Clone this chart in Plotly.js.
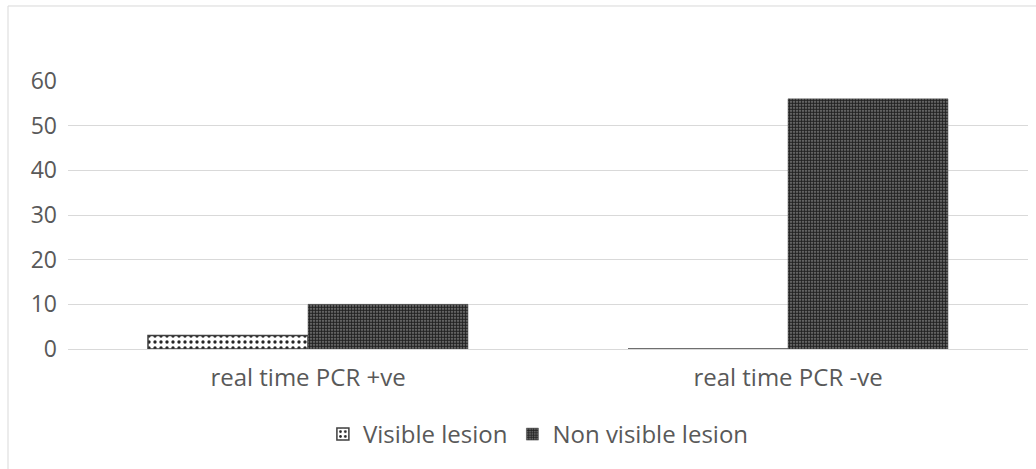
<!DOCTYPE html>
<html>
<head>
<meta charset="utf-8">
<script src="https://cdn.plot.ly/plotly-3.0.1.min.js"></script>
<style>
  html, body { margin: 0; padding: 0; background: #fff; }
  #chart { width: 1036px; height: 469px; }
</style>
</head>
<body>
<div id="chart"></div>
<script>
// Categories on the x axis
const categories = ["real time PCR +ve", "real time PCR -ve"];
// Series values
const visibleLesion = [3, 0];
const nonVisibleLesion = [10, 56];
// Y axis ticks
const yTicks = [0, 10, 20, 30, 40, 50, 60];

const font = "'Open Sans', 'Noto Sans', sans-serif";

const traces = [
  {
    type: "bar",
    name: "Visible lesion",
    x: categories,
    y: visibleLesion,
    marker: {
      color: "#ffffff",
      line: { color: "#404040", width: 1.5 },
      pattern: { shape: ".", size: 6, solidity: 0.25, fgcolor: "#262626", bgcolor: "#ffffff", fillmode: "replace" }
    },
    hoverinfo: "x+y+name"
  },
  {
    type: "bar",
    name: "Non visible lesion",
    x: categories,
    y: nonVisibleLesion,
    marker: {
      color: "#666666",
      line: { color: "#555555", width: 0.5 },
      pattern: { shape: ".", size: 3, solidity: 0.7, fgcolor: "#222222", bgcolor: "#8c8c8c", fillmode: "replace" }
    },
    hoverinfo: "x+y+name"
  }
];

const layout = {
  width: 1036,
  height: 469,
  margin: { l: 68, r: 8, t: 81, b: 120 },
  paper_bgcolor: "#ffffff",
  plot_bgcolor: "#ffffff",
  barmode: "group",
  bargap: 0.3333,
  bargroupgap: 0,
  font: { family: font, color: "#595959", size: 23 },
  xaxis: {
    type: "category",
    showgrid: false,
    zeroline: false,
    showline: false,
    ticks: "",
    ticklabelstandoff: 12,
    tickfont: { family: font, size: 24, color: "#595959" },
    fixedrange: true
  },
  yaxis: {
    range: [0, 60],
    tickvals: yTicks,
    showgrid: true,
    gridcolor: "#d9d9d9",
    gridwidth: 1,
    zeroline: true,
    zerolinecolor: "#d9d9d9",
    zerolinewidth: 1,
    showline: false,
    ticks: "",
    ticklabelstandoff: 10,
    tickfont: { family: font, size: 23, color: "#595959" },
    fixedrange: true
  },
  showlegend: true,
  legend: {
    orientation: "h",
    x: 0.49,
    xanchor: "center",
    y: -0.235,
    yanchor: "top",
    font: { family: font, size: 24, color: "#595959" },
    itemwidth: 30,
    traceorder: "normal"
  },
  shapes: [
    {
      type: "rect",
      xref: "paper",
      yref: "paper",
      x0: -0.0625, x1: 1.05,
      y0: -0.5, y1: 1.2799,
      line: { color: "#d9d9d9", width: 1 },
      fillcolor: "rgba(0,0,0,0)",
      layer: "below"
    }
  ]
};

Plotly.newPlot("chart", traces, layout, { displayModeBar: false, staticPlot: true });
</script>
</body>
</html>
